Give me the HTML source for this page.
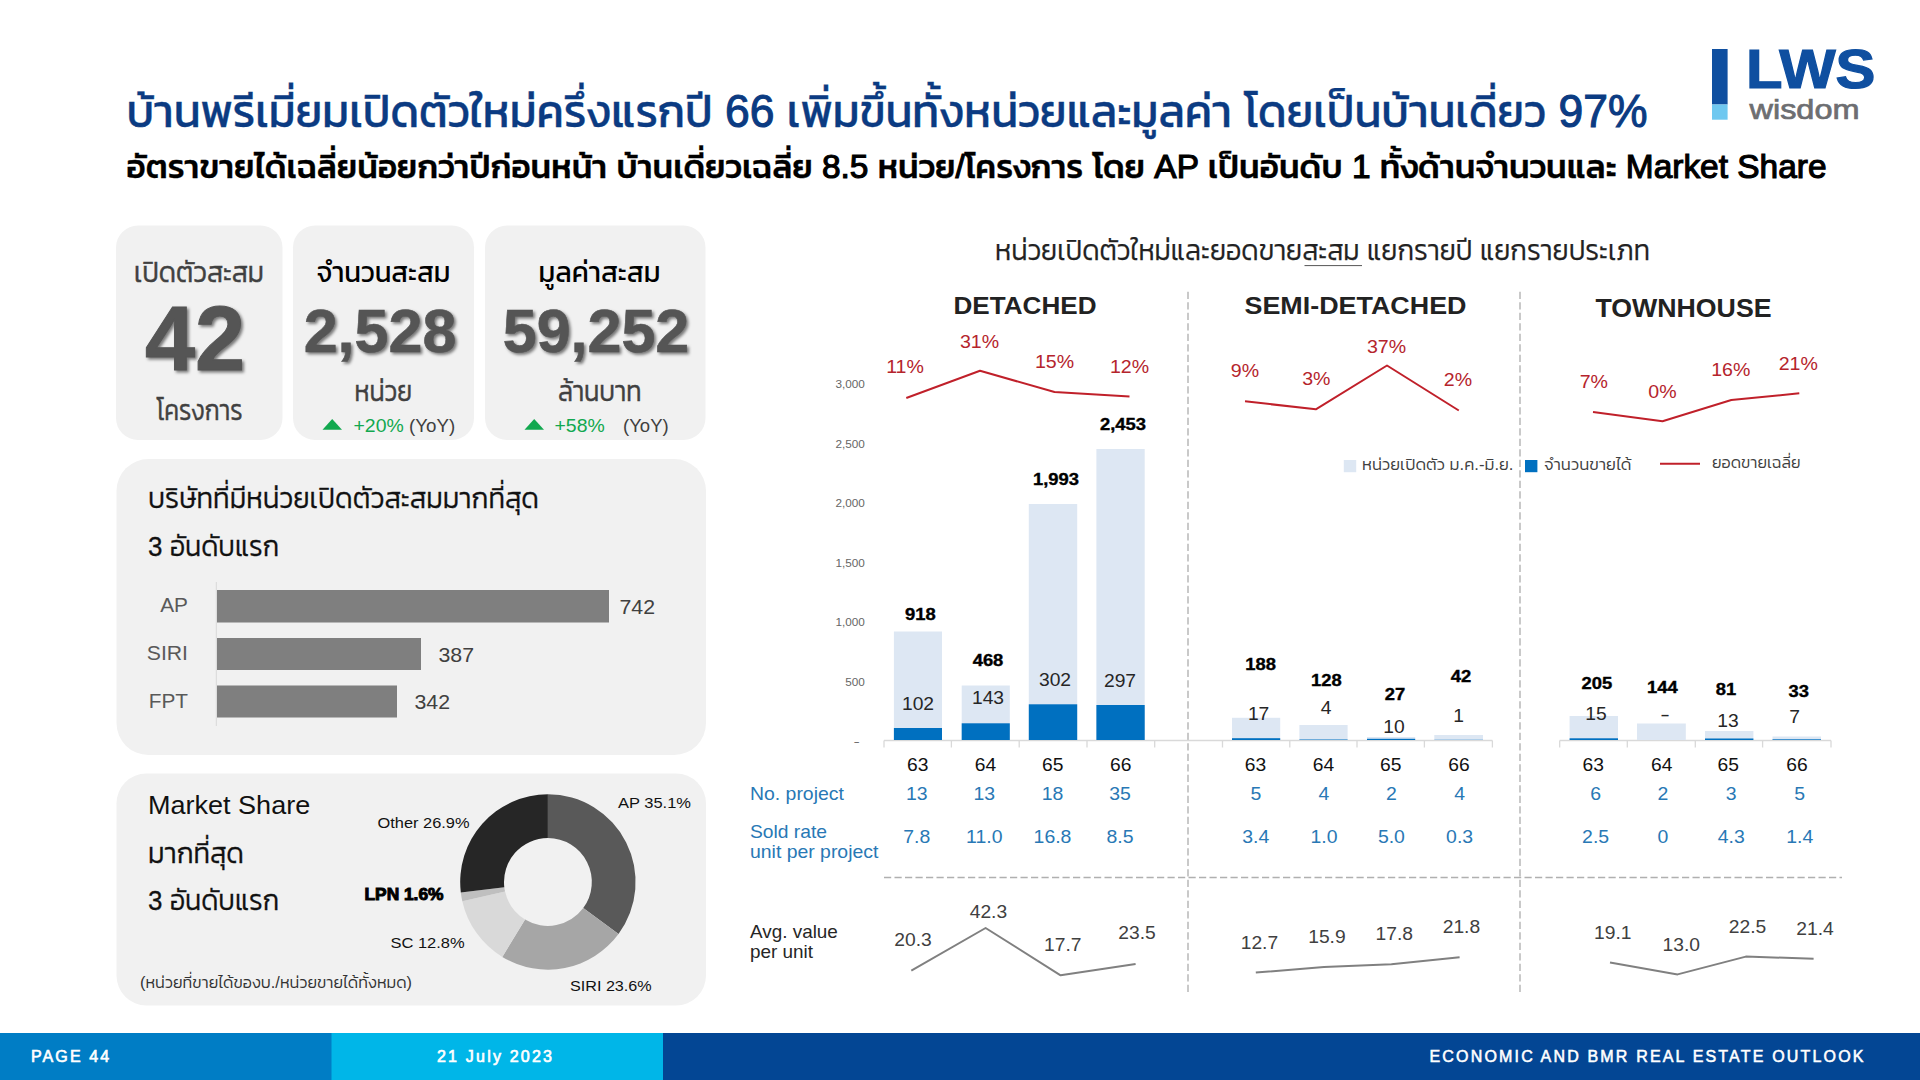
<!DOCTYPE html>
<html lang="th"><head><meta charset="utf-8"><title>LWS Wisdom - Page 44</title>
<style>
html,body{margin:0;padding:0;background:#fff;}
body{width:1920px;height:1080px;overflow:hidden;font-family:"Liberation Sans","Kanit","Prompt","IBM Plex Sans Thai","Noto Sans Thai","Sarabun","Loma",sans-serif;}
svg{display:block;position:absolute;left:0;top:0;}
svg text{font-family:"Liberation Sans","Kanit","Prompt","IBM Plex Sans Thai","Noto Sans Thai","Sarabun","Loma",sans-serif;white-space:pre;}
.sh{filter:drop-shadow(2px 2px 1.6px rgba(0,0,0,.5));}
</style></head><body>
<svg width="1920" height="1080" viewBox="0 0 1920 1080">
<rect width="1920" height="1080" fill="#ffffff"/>

<text x="126.5" y="126.7" font-size="46" text-anchor="start" font-weight="400" fill="#0b3b82" stroke="#0b3b82" stroke-width="0.4" textLength="1521" lengthAdjust="spacingAndGlyphs" id="title">บ้านพรีเมี่ยมเปิดตัวใหม่ครึ่งแรกปี <tspan stroke-width="1.1">66</tspan> เพิ่มขึ้นทั้งหน่วยและมูลค่า โดยเป็นบ้านเดี่ยว <tspan stroke-width="1.1">97%</tspan></text>
<text x="126.5" y="177.6" font-size="33" text-anchor="start" font-weight="500" fill="#000" stroke="#000" stroke-width="0.3" textLength="1700" lengthAdjust="spacingAndGlyphs" id="subtitle">อัตราขายได้เฉลี่ยน้อยกว่าปีก่อนหน้า บ้านเดี่ยวเฉลี่ย <tspan stroke-width="1.15">8.5</tspan> หน่วย<tspan stroke-width="1.15">/</tspan>โครงการ โดย <tspan stroke-width="1.15">AP</tspan> เป็นอันดับ <tspan stroke-width="1.15">1</tspan> ทั้งด้านจำนวนและ <tspan stroke-width="1.15">Market Share</tspan></text>
<rect x="1712" y="49" width="15.6" height="55.5" fill="#0f4fa0"/>
<rect x="1712" y="104.5" width="15.6" height="15.2" fill="#6fc8f0"/>
<text x="1746" y="88.2" font-size="55.5" text-anchor="start" font-weight="700" fill="#0f4fa0" stroke="#0f4fa0" stroke-width="1.2" textLength="129.5" lengthAdjust="spacingAndGlyphs" id="lws">LWS</text>
<text x="1749.5" y="119.3" font-size="27" text-anchor="start" font-weight="400" fill="#6d6e71" stroke="#6d6e71" stroke-width="0.7" textLength="110" lengthAdjust="spacingAndGlyphs" id="wisdom">wisdom</text>
<rect x="116" y="225.5" width="166.5" height="214.5" rx="22" fill="#f1f1f1"/>
<rect x="293" y="225.5" width="181" height="214.5" rx="22" fill="#f1f1f1"/>
<rect x="485" y="225.5" width="220.5" height="214.5" rx="22" fill="#f1f1f1"/>
<text x="198.9" y="281.5" font-size="28.5" text-anchor="middle" font-weight="300" fill="#404040" stroke="#404040" stroke-width="0.5" textLength="130" lengthAdjust="spacingAndGlyphs" >เปิดตัวสะสม</text>
<text x="195" y="369.8" font-size="90" text-anchor="middle" font-weight="700" fill="#555" stroke="#555" stroke-width="1" class="sh">42</text>
<text x="199.5" y="420.3" font-size="28.5" text-anchor="middle" font-weight="300" fill="#404040" stroke="#404040" stroke-width="0.5" textLength="86" lengthAdjust="spacingAndGlyphs" >โครงการ</text>
<text x="383.5" y="281.5" font-size="28.5" text-anchor="middle" font-weight="400" fill="#000" textLength="134" lengthAdjust="spacingAndGlyphs" >จำนวนสะสม</text>
<text x="380" y="352" font-size="61" text-anchor="middle" font-weight="700" fill="#555" stroke="#555" stroke-width="0.6" class="sh">2,528</text>
<text x="383.3" y="400.7" font-size="28.5" text-anchor="middle" font-weight="300" fill="#404040" stroke="#404040" stroke-width="0.5" textLength="57.5" lengthAdjust="spacingAndGlyphs" >หน่วย</text>
<text x="599.5" y="281.5" font-size="28.5" text-anchor="middle" font-weight="400" fill="#000" textLength="122" lengthAdjust="spacingAndGlyphs" >มูลค่าสะสม</text>
<text x="596" y="352" font-size="61" text-anchor="middle" font-weight="700" fill="#555" stroke="#555" stroke-width="0.6" class="sh">59,252</text>
<text x="599.7" y="400.7" font-size="28.5" text-anchor="middle" font-weight="300" fill="#404040" stroke="#404040" stroke-width="0.5" textLength="83.5" lengthAdjust="spacingAndGlyphs" >ล้านบาท</text>
<polygon points="322.5,429.7 342,429.7 332.2,419" fill="#12a84f"/>
<text transform="translate(353.5 432) scale(1.08 1)" font-size="18" text-anchor="start" font-weight="400" fill="#12a84f" >+20%</text>
<text transform="translate(409 432) scale(1.04 1)" font-size="18" text-anchor="start" font-weight="400" fill="#404040" >(YoY)</text>
<polygon points="524.5,429.7 544,429.7 534.2,419" fill="#12a84f"/>
<text transform="translate(554.5 432) scale(1.08 1)" font-size="18" text-anchor="start" font-weight="400" fill="#12a84f" >+58%</text>
<text transform="translate(623 432) scale(1.03 1)" font-size="18" text-anchor="start" font-weight="400" fill="#404040" >(YoY)</text>
<rect x="116.5" y="459" width="589.5" height="296" rx="32" fill="#f1f1f1"/>
<text x="148" y="508" font-size="28.5" text-anchor="start" font-weight="300" fill="#111" stroke="#111" stroke-width="0.3" textLength="391" lengthAdjust="spacingAndGlyphs" >บริษัทที่มีหน่วยเปิดตัวสะสมมากที่สุด</text>
<text x="148" y="556" font-size="28.5" text-anchor="start" font-weight="300" fill="#111" stroke="#111" stroke-width="0.3" textLength="131" lengthAdjust="spacingAndGlyphs" ><tspan font-size="27.5">3</tspan> อันดับแรก</text>
<line x1="216.3" y1="582" x2="216.3" y2="726" stroke="#d9d9d9" stroke-width="1"/>
<rect x="217" y="590" width="392" height="32.5" fill="#7f7f7f"/>
<rect x="217" y="638" width="204" height="32" fill="#7f7f7f"/>
<rect x="217" y="685.5" width="180" height="32" fill="#7f7f7f"/>
<text transform="translate(188 612) scale(1.08 1)" font-size="19.3" text-anchor="end" font-weight="400" fill="#595959" >AP</text>
<text transform="translate(188 660) scale(1.1 1)" font-size="19.3" text-anchor="end" font-weight="400" fill="#595959" >SIRI</text>
<text transform="translate(188 707.5) scale(1.08 1)" font-size="19.3" text-anchor="end" font-weight="400" fill="#595959" >FPT</text>
<text transform="translate(619.5 613.7) scale(1.05 1)" font-size="20.3" text-anchor="start" font-weight="400" fill="#404040" >742</text>
<text transform="translate(438.5 661.5) scale(1.05 1)" font-size="20.3" text-anchor="start" font-weight="400" fill="#404040" >387</text>
<text transform="translate(414.5 709) scale(1.05 1)" font-size="20.3" text-anchor="start" font-weight="400" fill="#404040" >342</text>
<rect x="116.5" y="773.5" width="589.5" height="232" rx="30" fill="#f1f1f1"/>
<text transform="translate(148 814) scale(1.06 1)" font-size="25.5" text-anchor="start" font-weight="400" fill="#111" >Market Share</text>
<text x="148" y="862.7" font-size="28.5" text-anchor="start" font-weight="300" fill="#111" stroke="#111" stroke-width="0.3" textLength="96" lengthAdjust="spacingAndGlyphs" >มากที่สุด</text>
<text x="148" y="910" font-size="28.5" text-anchor="start" font-weight="300" fill="#111" stroke="#111" stroke-width="0.3" textLength="131" lengthAdjust="spacingAndGlyphs" ><tspan font-size="27.5">3</tspan> อันดับแรก</text>
<text x="140" y="987.6" font-size="17" text-anchor="start" font-weight="300" fill="#333" textLength="272" lengthAdjust="spacingAndGlyphs" >(หน่วยที่ขายได้ของบ./หน่วยขายได้ทั้งหมด)</text>
<path d="M547.90,794.30 A87.7,87.7 0 0 1 618.53,933.99 L583.25,908.03 A43.9,43.9 0 0 0 547.90,838.10 Z" fill="#595959"/>
<path d="M618.53,933.99 A87.7,87.7 0 0 1 502.31,956.92 L525.08,919.50 A43.9,43.9 0 0 0 583.25,908.03 Z" fill="#a6a6a6"/>
<path d="M502.31,956.92 A87.7,87.7 0 0 1 462.31,901.13 L505.06,891.58 A43.9,43.9 0 0 0 525.08,919.50 Z" fill="#d9d9d9"/>
<path d="M462.31,901.13 A87.7,87.7 0 0 1 460.82,892.44 L504.31,887.23 A43.9,43.9 0 0 0 505.06,891.58 Z" fill="#bfbfbf"/>
<path d="M460.82,892.44 A87.7,87.7 0 0 1 547.90,794.30 L547.90,838.10 A43.9,43.9 0 0 0 504.31,887.23 Z" fill="#262626"/>
<text transform="translate(618 807.6) scale(1.07 1)" font-size="15.4" text-anchor="start" font-weight="400" fill="#111" >AP 35.1%</text>
<text transform="translate(377.5 828.2) scale(1.065 1)" font-size="15.4" text-anchor="start" font-weight="400" fill="#111" >Other 26.9%</text>
<text transform="translate(364.5 899.7) scale(1.02 1)" font-size="17" text-anchor="start" font-weight="700" fill="#000" stroke="#000" stroke-width="1.0" >LPN 1.6%</text>
<text transform="translate(390.5 947.8) scale(1.07 1)" font-size="15.4" text-anchor="start" font-weight="400" fill="#111" >SC 12.8%</text>
<text transform="translate(570 991.3) scale(1.05 1)" font-size="15.4" text-anchor="start" font-weight="400" fill="#111" >SIRI 23.6%</text>
<text x="995" y="259.5" font-size="28.5" text-anchor="start" font-weight="300" fill="#222" stroke="#222" stroke-width="0.25" textLength="655" lengthAdjust="spacingAndGlyphs" id="ctitle">หน่วยเปิดตัวใหม่และยอดขายสะสม แยกรายปี แยกรายประเภท</text>
<line x1="1304.5" y1="265.6" x2="1362" y2="265.6" stroke="#555" stroke-width="1"/>
<text x="1025" y="313.8" font-size="24.3" text-anchor="middle" font-weight="700" fill="#222" textLength="143" lengthAdjust="spacingAndGlyphs" id="h1">DETACHED</text>
<text x="1355.5" y="313.8" font-size="24.3" text-anchor="middle" font-weight="700" fill="#222" textLength="222" lengthAdjust="spacingAndGlyphs" id="h2">SEMI-DETACHED</text>
<text x="1683.5" y="317.2" font-size="26.5" text-anchor="middle" font-weight="700" fill="#222" textLength="176" lengthAdjust="spacingAndGlyphs" id="h3">TOWNHOUSE</text>
<line x1="1188" y1="291.7" x2="1188" y2="994.5" stroke="#b0b0b0" stroke-width="1.35" stroke-dasharray="7.2 3.3" fill="none"/>
<line x1="1520" y1="291.7" x2="1520" y2="994.5" stroke="#b0b0b0" stroke-width="1.35" stroke-dasharray="7.2 3.3" fill="none"/>
<line x1="884" y1="877.5" x2="1842" y2="877.5" stroke="#b0b0b0" stroke-width="1.35" stroke-dasharray="7.2 3.3" fill="none"/>
<text transform="translate(864.8 388.0) scale(1.06 1)" font-size="11.1" text-anchor="end" font-weight="400" fill="#666" >3,000</text>
<text transform="translate(864.8 447.5) scale(1.06 1)" font-size="11.1" text-anchor="end" font-weight="400" fill="#666" >2,500</text>
<text transform="translate(864.8 507.0) scale(1.06 1)" font-size="11.1" text-anchor="end" font-weight="400" fill="#666" >2,000</text>
<text transform="translate(864.8 566.5) scale(1.06 1)" font-size="11.1" text-anchor="end" font-weight="400" fill="#666" >1,500</text>
<text transform="translate(864.8 626.0) scale(1.06 1)" font-size="11.1" text-anchor="end" font-weight="400" fill="#666" >1,000</text>
<text transform="translate(864.8 685.5) scale(1.06 1)" font-size="11.1" text-anchor="end" font-weight="400" fill="#666" >500</text>
<text transform="translate(859.8 745.0) scale(1.7 1)" font-size="11.1" text-anchor="end" font-weight="400" fill="#666" >-</text>
<path d="M884,740.5 H1492.4 M884,740.5 v7 M951.4,740.5 v7 M1019.2,740.5 v7 M1087,740.5 v7 M1154.7,740.5 v7 M1222.5,740.5 v7 M1289.8,740.5 v7 M1357,740.5 v7 M1424.4,740.5 v7 M1492.4,740.5 v7" stroke="#d9d9d9" stroke-width="1.3" fill="none"/>
<path d="M1559.7,740.5 H1831 M1559.7,740.5 v7 M1627.3,740.5 v7 M1695.3,740.5 v7 M1762.6,740.5 v7 M1831,740.5 v7" stroke="#d9d9d9" stroke-width="1.3" fill="none"/>
<rect x="893.9" y="631.5" width="48.1" height="108.5" fill="#dde7f3"/>
<rect x="893.9" y="728" width="48.1" height="12.0" fill="#0070c0"/>
<rect x="961.7" y="685.5" width="48.1" height="54.5" fill="#dde7f3"/>
<rect x="961.7" y="723.3" width="48.1" height="16.7" fill="#0070c0"/>
<rect x="1028.8" y="504" width="48.4" height="236.0" fill="#dde7f3"/>
<rect x="1028.8" y="704.3" width="48.4" height="35.7" fill="#0070c0"/>
<rect x="1096.4" y="449" width="48.3" height="291.0" fill="#dde7f3"/>
<rect x="1096.4" y="705" width="48.3" height="35.0" fill="#0070c0"/>
<rect x="1232" y="717.8" width="48.2" height="22.2" fill="#dde7f3"/>
<rect x="1232" y="738.2" width="48.2" height="1.8" fill="#0070c0"/>
<rect x="1299.4" y="725" width="48.2" height="15.0" fill="#dde7f3"/>
<rect x="1299.4" y="739.5" width="48.2" height="0.5" fill="#0070c0"/>
<rect x="1367" y="737" width="48.2" height="3.0" fill="#dde7f3"/>
<rect x="1367" y="738.8" width="48.2" height="1.2" fill="#0070c0"/>
<rect x="1434.3" y="735" width="48.7" height="5.0" fill="#dde7f3"/>
<rect x="1434.3" y="739.8" width="48.7" height="0.2" fill="#0070c0"/>
<rect x="1569.6" y="716" width="48.4" height="24.0" fill="#dde7f3"/>
<rect x="1569.6" y="738.3" width="48.4" height="1.7" fill="#0070c0"/>
<rect x="1637" y="723.5" width="48.8" height="16.5" fill="#dde7f3"/>
<rect x="1705" y="731" width="48.4" height="9.0" fill="#dde7f3"/>
<rect x="1705" y="738.5" width="48.4" height="1.5" fill="#0070c0"/>
<rect x="1772.5" y="736.5" width="48.5" height="3.5" fill="#dde7f3"/>
<rect x="1772.5" y="739.3" width="48.5" height="0.7" fill="#0070c0"/>
<polyline points="906.3,398 980,370.8 1054.5,392 1129.5,396.5" stroke="#c0202a" stroke-width="2" fill="none" stroke-linejoin="round"/>
<polyline points="1245,401.3 1315.8,409.3 1387,365.5 1458.8,410.5" stroke="#c0202a" stroke-width="2" fill="none" stroke-linejoin="round"/>
<polyline points="1593,412 1662.5,421.3 1731.3,400 1799.3,393.3" stroke="#c0202a" stroke-width="2" fill="none" stroke-linejoin="round"/>
<text transform="translate(905 373.4) scale(1.12 1)" font-size="17.5" text-anchor="middle" font-weight="400" fill="#b5242c" >11%</text>
<text transform="translate(979.5 348.4) scale(1.12 1)" font-size="17.5" text-anchor="middle" font-weight="400" fill="#b5242c" >31%</text>
<text transform="translate(1054.5 368.4) scale(1.12 1)" font-size="17.5" text-anchor="middle" font-weight="400" fill="#b5242c" >15%</text>
<text transform="translate(1129.5 372.9) scale(1.12 1)" font-size="17.5" text-anchor="middle" font-weight="400" fill="#b5242c" >12%</text>
<text transform="translate(1245 377.2) scale(1.12 1)" font-size="17.5" text-anchor="middle" font-weight="400" fill="#b5242c" >9%</text>
<text transform="translate(1316.3 385.2) scale(1.12 1)" font-size="17.5" text-anchor="middle" font-weight="400" fill="#b5242c" >3%</text>
<text transform="translate(1386.5 352.9) scale(1.12 1)" font-size="17.5" text-anchor="middle" font-weight="400" fill="#b5242c" >37%</text>
<text transform="translate(1458 385.9) scale(1.12 1)" font-size="17.5" text-anchor="middle" font-weight="400" fill="#b5242c" >2%</text>
<text transform="translate(1593.8 387.9) scale(1.12 1)" font-size="17.5" text-anchor="middle" font-weight="400" fill="#b5242c" >7%</text>
<text transform="translate(1662.4 397.9) scale(1.12 1)" font-size="17.5" text-anchor="middle" font-weight="400" fill="#b5242c" >0%</text>
<text transform="translate(1730.8 376.4) scale(1.12 1)" font-size="17.5" text-anchor="middle" font-weight="400" fill="#b5242c" >16%</text>
<text transform="translate(1798.3 369.9) scale(1.12 1)" font-size="17.5" text-anchor="middle" font-weight="400" fill="#b5242c" >21%</text>
<rect x="1343.8" y="460" width="12.4" height="12.2" fill="#dde7f3"/>
<text x="1362" y="470.4" font-size="16.5" text-anchor="start" font-weight="300" fill="#404040" textLength="151.5" lengthAdjust="spacingAndGlyphs" id="lg1">หน่วยเปิดตัว ม.ค.-มิ.ย.</text>
<rect x="1525" y="460" width="12.4" height="12.2" fill="#0070c0"/>
<text x="1544" y="470.4" font-size="16.5" text-anchor="start" font-weight="300" fill="#404040" textLength="87.5" lengthAdjust="spacingAndGlyphs" id="lg2">จำนวนขายได้</text>
<line x1="1660" y1="463.8" x2="1700" y2="463.8" stroke="#c0202a" stroke-width="2"/>
<text x="1712" y="468.4" font-size="16.5" text-anchor="start" font-weight="300" fill="#404040" textLength="88.5" lengthAdjust="spacingAndGlyphs" id="lg3">ยอดขายเฉลี่ย</text>
<text transform="translate(920.3 619.5) scale(1.15 1)" font-size="16" text-anchor="middle" font-weight="700" fill="#000" stroke="#000" stroke-width="0.35" >918</text>
<text transform="translate(988 665.5) scale(1.15 1)" font-size="16" text-anchor="middle" font-weight="700" fill="#000" stroke="#000" stroke-width="0.35" >468</text>
<text transform="translate(1056 484.5) scale(1.15 1)" font-size="16" text-anchor="middle" font-weight="700" fill="#000" stroke="#000" stroke-width="0.35" >1,993</text>
<text transform="translate(1123 430.0) scale(1.15 1)" font-size="16" text-anchor="middle" font-weight="700" fill="#000" stroke="#000" stroke-width="0.35" >2,453</text>
<text transform="translate(1260.7 669.5) scale(1.15 1)" font-size="16" text-anchor="middle" font-weight="700" fill="#000" stroke="#000" stroke-width="0.35" >188</text>
<text transform="translate(1326.3 685.5) scale(1.15 1)" font-size="16" text-anchor="middle" font-weight="700" fill="#000" stroke="#000" stroke-width="0.35" >128</text>
<text transform="translate(1395 700.3) scale(1.15 1)" font-size="16" text-anchor="middle" font-weight="700" fill="#000" stroke="#000" stroke-width="0.35" >27</text>
<text transform="translate(1460.9 681.9) scale(1.15 1)" font-size="16" text-anchor="middle" font-weight="700" fill="#000" stroke="#000" stroke-width="0.35" >42</text>
<text transform="translate(1596.9 688.9) scale(1.15 1)" font-size="16" text-anchor="middle" font-weight="700" fill="#000" stroke="#000" stroke-width="0.35" >205</text>
<text transform="translate(1662.4 692.5) scale(1.15 1)" font-size="16" text-anchor="middle" font-weight="700" fill="#000" stroke="#000" stroke-width="0.35" >144</text>
<text transform="translate(1726 695.0) scale(1.15 1)" font-size="16" text-anchor="middle" font-weight="700" fill="#000" stroke="#000" stroke-width="0.35" >81</text>
<text transform="translate(1798.7 696.5) scale(1.15 1)" font-size="16" text-anchor="middle" font-weight="700" fill="#000" stroke="#000" stroke-width="0.35" >33</text>
<text transform="translate(918 709.6) scale(1.07 1)" font-size="18" text-anchor="middle" font-weight="400" fill="#262626" >102</text>
<text transform="translate(988 704.2) scale(1.07 1)" font-size="18" text-anchor="middle" font-weight="400" fill="#262626" >143</text>
<text transform="translate(1055 685.6) scale(1.07 1)" font-size="18" text-anchor="middle" font-weight="400" fill="#262626" >302</text>
<text transform="translate(1120 687.0) scale(1.07 1)" font-size="18" text-anchor="middle" font-weight="400" fill="#262626" >297</text>
<text transform="translate(1258.6 719.6) scale(1.07 1)" font-size="18" text-anchor="middle" font-weight="400" fill="#262626" >17</text>
<text transform="translate(1326 713.6) scale(1.07 1)" font-size="18" text-anchor="middle" font-weight="400" fill="#262626" >4</text>
<text transform="translate(1394 732.6) scale(1.07 1)" font-size="18" text-anchor="middle" font-weight="400" fill="#262626" >10</text>
<text transform="translate(1458.7 721.6) scale(1.07 1)" font-size="18" text-anchor="middle" font-weight="400" fill="#262626" >1</text>
<text transform="translate(1596 719.6) scale(1.07 1)" font-size="18" text-anchor="middle" font-weight="400" fill="#262626" >15</text>
<text transform="translate(1665 720.6) scale(1.6 1)" font-size="18" text-anchor="middle" font-weight="400" fill="#262626" >-</text>
<text transform="translate(1728 727.3000000000001) scale(1.07 1)" font-size="18" text-anchor="middle" font-weight="400" fill="#262626" >13</text>
<text transform="translate(1794.5 722.6) scale(1.07 1)" font-size="18" text-anchor="middle" font-weight="400" fill="#262626" >7</text>
<text transform="translate(917.8 770.8) scale(1.07 1)" font-size="18" text-anchor="middle" font-weight="400" fill="#111" >63</text>
<text transform="translate(985.5 770.8) scale(1.07 1)" font-size="18" text-anchor="middle" font-weight="400" fill="#111" >64</text>
<text transform="translate(1052.8 770.8) scale(1.07 1)" font-size="18" text-anchor="middle" font-weight="400" fill="#111" >65</text>
<text transform="translate(1120.8 770.8) scale(1.07 1)" font-size="18" text-anchor="middle" font-weight="400" fill="#111" >66</text>
<text transform="translate(1255.4 770.8) scale(1.07 1)" font-size="18" text-anchor="middle" font-weight="400" fill="#111" >63</text>
<text transform="translate(1323.4 770.8) scale(1.07 1)" font-size="18" text-anchor="middle" font-weight="400" fill="#111" >64</text>
<text transform="translate(1390.7 770.8) scale(1.07 1)" font-size="18" text-anchor="middle" font-weight="400" fill="#111" >65</text>
<text transform="translate(1459 770.8) scale(1.07 1)" font-size="18" text-anchor="middle" font-weight="400" fill="#111" >66</text>
<text transform="translate(1593.3 770.8) scale(1.07 1)" font-size="18" text-anchor="middle" font-weight="400" fill="#111" >63</text>
<text transform="translate(1661.7 770.8) scale(1.07 1)" font-size="18" text-anchor="middle" font-weight="400" fill="#111" >64</text>
<text transform="translate(1728.3 770.8) scale(1.07 1)" font-size="18" text-anchor="middle" font-weight="400" fill="#111" >65</text>
<text transform="translate(1797 770.8) scale(1.07 1)" font-size="18" text-anchor="middle" font-weight="400" fill="#111" >66</text>
<text transform="translate(750 800) scale(1.11 1)" font-size="17.5" text-anchor="start" font-weight="400" fill="#2878b5" >No. project</text>
<text transform="translate(750 837.5) scale(1.1 1)" font-size="17.5" text-anchor="start" font-weight="400" fill="#2878b5" >Sold rate</text>
<text transform="translate(750 857.8) scale(1.11 1)" font-size="17.5" text-anchor="start" font-weight="400" fill="#2878b5" >unit per project</text>
<text transform="translate(916.8 800) scale(1.08 1)" font-size="18" text-anchor="middle" font-weight="400" fill="#2878b5" >13</text>
<text transform="translate(984.3 800) scale(1.08 1)" font-size="18" text-anchor="middle" font-weight="400" fill="#2878b5" >13</text>
<text transform="translate(1052.5 800) scale(1.08 1)" font-size="18" text-anchor="middle" font-weight="400" fill="#2878b5" >18</text>
<text transform="translate(1120 800) scale(1.08 1)" font-size="18" text-anchor="middle" font-weight="400" fill="#2878b5" >35</text>
<text transform="translate(1255.8 800) scale(1.08 1)" font-size="18" text-anchor="middle" font-weight="400" fill="#2878b5" >5</text>
<text transform="translate(1324 800) scale(1.08 1)" font-size="18" text-anchor="middle" font-weight="400" fill="#2878b5" >4</text>
<text transform="translate(1391.4 800) scale(1.08 1)" font-size="18" text-anchor="middle" font-weight="400" fill="#2878b5" >2</text>
<text transform="translate(1459.6 800) scale(1.08 1)" font-size="18" text-anchor="middle" font-weight="400" fill="#2878b5" >4</text>
<text transform="translate(1595.6 800) scale(1.08 1)" font-size="18" text-anchor="middle" font-weight="400" fill="#2878b5" >6</text>
<text transform="translate(1663 800) scale(1.08 1)" font-size="18" text-anchor="middle" font-weight="400" fill="#2878b5" >2</text>
<text transform="translate(1731.2 800) scale(1.08 1)" font-size="18" text-anchor="middle" font-weight="400" fill="#2878b5" >3</text>
<text transform="translate(1799.7 800) scale(1.08 1)" font-size="18" text-anchor="middle" font-weight="400" fill="#2878b5" >5</text>
<text transform="translate(916.8 842.5) scale(1.08 1)" font-size="18" text-anchor="middle" font-weight="400" fill="#2878b5" >7.8</text>
<text transform="translate(984.3 842.5) scale(1.08 1)" font-size="18" text-anchor="middle" font-weight="400" fill="#2878b5" >11.0</text>
<text transform="translate(1052.5 842.5) scale(1.08 1)" font-size="18" text-anchor="middle" font-weight="400" fill="#2878b5" >16.8</text>
<text transform="translate(1120 842.5) scale(1.08 1)" font-size="18" text-anchor="middle" font-weight="400" fill="#2878b5" >8.5</text>
<text transform="translate(1255.8 842.5) scale(1.08 1)" font-size="18" text-anchor="middle" font-weight="400" fill="#2878b5" >3.4</text>
<text transform="translate(1324 842.5) scale(1.08 1)" font-size="18" text-anchor="middle" font-weight="400" fill="#2878b5" >1.0</text>
<text transform="translate(1391.4 842.5) scale(1.08 1)" font-size="18" text-anchor="middle" font-weight="400" fill="#2878b5" >5.0</text>
<text transform="translate(1459.6 842.5) scale(1.08 1)" font-size="18" text-anchor="middle" font-weight="400" fill="#2878b5" >0.3</text>
<text transform="translate(1595.6 842.5) scale(1.08 1)" font-size="18" text-anchor="middle" font-weight="400" fill="#2878b5" >2.5</text>
<text transform="translate(1663 842.5) scale(1.08 1)" font-size="18" text-anchor="middle" font-weight="400" fill="#2878b5" >0</text>
<text transform="translate(1731.2 842.5) scale(1.08 1)" font-size="18" text-anchor="middle" font-weight="400" fill="#2878b5" >4.3</text>
<text transform="translate(1799.7 842.5) scale(1.08 1)" font-size="18" text-anchor="middle" font-weight="400" fill="#2878b5" >1.4</text>
<text transform="translate(750 937.5) scale(1.08 1)" font-size="17.5" text-anchor="start" font-weight="400" fill="#262626" >Avg. value</text>
<text transform="translate(750 957.8) scale(1.08 1)" font-size="17.5" text-anchor="start" font-weight="400" fill="#262626" >per unit</text>
<polyline points="911.3,970.6 985.6,928 1060.6,975.3 1135.6,964" stroke="#808080" stroke-width="2" fill="none" stroke-linejoin="round"/>
<polyline points="1255.8,972.6 1324,967 1391.4,964.2 1459.6,957.3" stroke="#808080" stroke-width="2" fill="none" stroke-linejoin="round"/>
<polyline points="1610,962.4 1677.6,974.4 1745.8,956.6 1813.6,958.7" stroke="#808080" stroke-width="2" fill="none" stroke-linejoin="round"/>
<text transform="translate(913 946) scale(1.07 1)" font-size="18" text-anchor="middle" font-weight="400" fill="#404040" >20.3</text>
<text transform="translate(988.4 917.5) scale(1.07 1)" font-size="18" text-anchor="middle" font-weight="400" fill="#404040" >42.3</text>
<text transform="translate(1062.8 951) scale(1.07 1)" font-size="18" text-anchor="middle" font-weight="400" fill="#404040" >17.7</text>
<text transform="translate(1137 939.4) scale(1.07 1)" font-size="18" text-anchor="middle" font-weight="400" fill="#404040" >23.5</text>
<text transform="translate(1259.4 948.5) scale(1.07 1)" font-size="18" text-anchor="middle" font-weight="400" fill="#404040" >12.7</text>
<text transform="translate(1326.9 943.4) scale(1.07 1)" font-size="18" text-anchor="middle" font-weight="400" fill="#404040" >15.9</text>
<text transform="translate(1394.3 939.8) scale(1.07 1)" font-size="18" text-anchor="middle" font-weight="400" fill="#404040" >17.8</text>
<text transform="translate(1461.4 933.2) scale(1.07 1)" font-size="18" text-anchor="middle" font-weight="400" fill="#404040" >21.8</text>
<text transform="translate(1612.7 938.7) scale(1.07 1)" font-size="18" text-anchor="middle" font-weight="400" fill="#404040" >19.1</text>
<text transform="translate(1681.2 950.7) scale(1.07 1)" font-size="18" text-anchor="middle" font-weight="400" fill="#404040" >13.0</text>
<text transform="translate(1747.6 933.2) scale(1.07 1)" font-size="18" text-anchor="middle" font-weight="400" fill="#404040" >22.5</text>
<text transform="translate(1815 935) scale(1.07 1)" font-size="18" text-anchor="middle" font-weight="400" fill="#404040" >21.4</text>
<rect x="0" y="1033" width="332" height="47" fill="#007dc5"/>
<rect x="331.5" y="1033" width="332" height="47" fill="#00b6e8"/>
<rect x="663" y="1033" width="1257" height="47" fill="#034694"/>
<text x="31" y="1062" font-size="16" text-anchor="start" font-weight="400" fill="#fff" stroke="#fff" stroke-width="0.65" letter-spacing="2.1" id="f1">PAGE 44</text>
<text x="437" y="1062" font-size="16" text-anchor="start" font-weight="400" fill="#fff" stroke="#fff" stroke-width="0.65" letter-spacing="2.2" id="f2">21 July 2023</text>
<text x="1429.5" y="1062" font-size="16" text-anchor="start" font-weight="400" fill="#fff" stroke="#fff" stroke-width="0.55" letter-spacing="2.17" id="f3">ECONOMIC AND BMR REAL ESTATE OUTLOOK</text>
</svg></body></html>
